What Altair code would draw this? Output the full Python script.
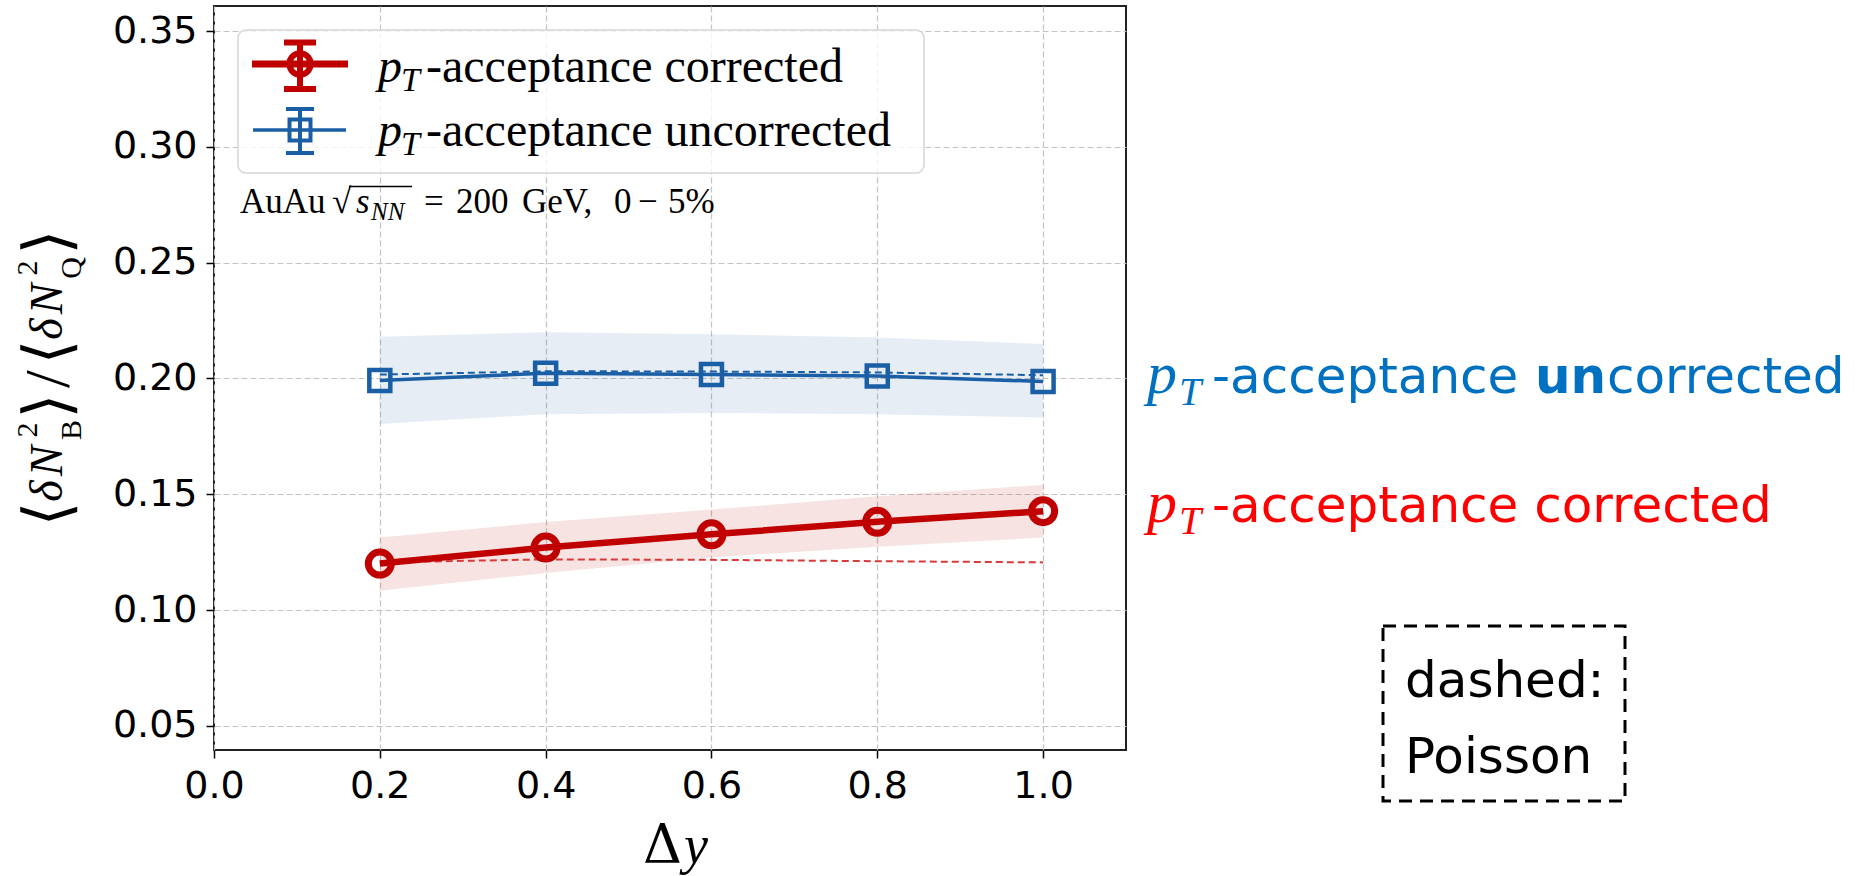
import altair as alt
import pandas as pd

# ---------------- data ----------------
dy = [0.2, 0.4, 0.6, 0.8, 1.0]
corr = [0.1201, 0.1270, 0.1327, 0.1381, 0.1427]
corr_lo = [0.1084, 0.1160, 0.1227, 0.1274, 0.1313]
corr_hi = [0.1313, 0.1380, 0.1434, 0.1491, 0.1541]
corr_pois = [0.1206, 0.1219, 0.1217, 0.1211, 0.1206]
unc = [0.1991, 0.2023, 0.2017, 0.2011, 0.1987]
unc_lo = [0.1803, 0.1846, 0.1851, 0.1846, 0.1831]
unc_hi = [0.2180, 0.2199, 0.2191, 0.2177, 0.2149]
unc_pois = [0.2017, 0.2031, 0.2030, 0.2026, 0.2014]

x_ticks = [0.0, 0.2, 0.4, 0.6, 0.8, 1.0]
y_ticks = [0.05, 0.10, 0.15, 0.20, 0.25, 0.30, 0.35]
x_domain = [0.0, 1.1]
y_domain = [0.0396, 0.3608]

legend_labels = ["-acceptance corrected", "-acceptance uncorrected"]
side_red = ["-acceptance corrected"]
side_blue = ["-acceptance ", "un", "corrected"]
box_lines = ["dashed:", "Poisson"]
ann_pieces = ["AuAu", "√", "s", "NN", "=", "200", "GeV,", "0", "−", "5%"]

RED = "#c00000"
BLUE = "#1a5fa5"
SIDE_RED = "#ff0000"
SIDE_BLUE = "#0070c0"

OX, OY = 214, 6
W, H = 912, 744


def X(px):
    return px - OX


def Y(py):
    return py - OY


def one():
    return pd.DataFrame({"k": [0]})


def text_mark(s, x, y, size, font="DejaVu Sans", color="black", style="normal",
              weight="normal", angle=0, align="left", baseline="alphabetic"):
    return alt.Chart(pd.DataFrame({"label": [s]})).mark_text(
        align=align, baseline=baseline, font=font, fontSize=size,
        fontStyle=style, fontWeight=weight, color=color, angle=angle
    ).encode(x=alt.value(X(x)), y=alt.value(Y(y)), text="label:N")


def rule(x1, y1, x2, y2, color, width, dash=None):
    kw = dict(color=color, strokeWidth=width)
    if dash:
        kw["strokeDash"] = dash
    return alt.Chart(one()).mark_rule(**kw).encode(
        x=alt.value(X(x1)), x2=alt.value(X(x2)),
        y=alt.value(Y(y1)), y2=alt.value(Y(y2)))


def sym(x, y, shape, size, stroke, sw):
    return alt.Chart(one()).mark_point(
        shape=shape, size=size, filled=False, color=stroke,
        strokeWidth=sw, opacity=1
    ).encode(x=alt.value(X(x)), y=alt.value(Y(y)))


df = pd.DataFrame({
    "dy": dy, "corr": corr, "corr_lo": corr_lo, "corr_hi": corr_hi,
    "corr_pois": corr_pois, "unc": unc, "unc_lo": unc_lo, "unc_hi": unc_hi,
    "unc_pois": unc_pois,
})

axis_common = dict(
    labelFont="DejaVu Sans", labelFontSize=38, labelColor="black",
    tickColor="black", tickSize=8, tickWidth=1.5, domain=False, labelFlush=False,
    grid=True, gridColor="#c4c4c4", gridDash=[6, 3], gridWidth=1.2,
    labelPadding=9, title=None,
)
xenc = alt.X("dy:Q", scale=alt.Scale(domain=x_domain, nice=False, zero=False),
             axis=alt.Axis(values=x_ticks, format=".1f", **axis_common), title=None)


def yenc(field):
    return alt.Y(f"{field}:Q", scale=alt.Scale(domain=y_domain, nice=False, zero=False),
                 axis=alt.Axis(values=y_ticks, format=".2f", **axis_common), title=None)


base = alt.Chart(df)
layers = [
    base.mark_area(color=BLUE, opacity=0.11).encode(x=xenc, y=yenc("unc_lo"), y2="unc_hi:Q"),
    base.mark_area(color=RED, opacity=0.11).encode(x=xenc, y=yenc("corr_lo"), y2="corr_hi:Q"),
    base.mark_line(color="#d83a3a", strokeWidth=2, strokeDash=[7, 4]).encode(x=xenc, y=yenc("corr_pois")),
    base.mark_line(color=RED, strokeWidth=6.5).encode(x=xenc, y=yenc("corr")),
    base.mark_line(color=BLUE, strokeWidth=3.5).encode(x=xenc, y=yenc("unc")),
    base.mark_line(color=BLUE, strokeWidth=2, strokeDash=[7, 4]).encode(x=xenc, y=yenc("unc_pois")),
    base.mark_point(shape="circle", size=531, filled=False, color=RED,
                    strokeWidth=7, opacity=1).encode(x=xenc, y=yenc("corr")),
    base.mark_point(shape="square", size=441, filled=False, color=BLUE,
                    strokeWidth=4.5, opacity=1).encode(x=xenc, y=yenc("unc")),
]

# ---------------- legend box ----------------
layers.append(alt.Chart(one()).mark_rect(
    fill="white", fillOpacity=0.8, stroke="#d5d5d5", strokeWidth=1.5, cornerRadius=8
).encode(x=alt.value(X(238)), x2=alt.value(X(924)), y=alt.value(Y(30)), y2=alt.value(Y(173))))
# red entry
layers += [
    rule(252, 64, 348, 64, RED, 7),
    rule(300, 40, 300, 91, RED, 6),
    rule(284, 42.5, 316, 42.5, RED, 6),
    rule(284, 89, 316, 89, RED, 6),
    sym(300, 64, "circle", 452, RED, 6),
]
# blue entry
layers += [
    rule(253, 130, 346, 130, BLUE, 3.5),
    rule(300, 107, 300, 155, BLUE, 4),
    rule(286, 109, 314, 109, BLUE, 4),
    rule(286, 153, 314, 153, BLUE, 4),
    sym(300, 130, "square", 441, BLUE, 4),
]
SERIF = "Liberation Serif"
for lab, yb in zip(legend_labels, [82, 146]):
    layers += [
        text_mark("p", 378, yb, 48, SERIF, style="italic"),
        text_mark("T", 401, yb + 9, 34, SERIF, style="italic"),
        text_mark(lab, 426, yb, 48, SERIF),
    ]

# ---------------- annotation ----------------
ann_x = [240, 332, 356, 371, 424, 456, 522, 614, 638, 668]
ann_style = ["normal", "normal", "italic", "italic", "normal", "normal", "normal", "normal", "normal", "normal"]
ann_size = [35, 35, 35, 25, 35, 35, 35, 35, 35, 35]
ann_dy = [0, 0, 0, 7, 0, 0, 0, 0, 0, 0]
for s, xx, st, sz, d in zip(ann_pieces, ann_x, ann_style, ann_size, ann_dy):
    layers.append(text_mark(s, xx, 213 + d, sz, SERIF, style=st))
layers.append(rule(349, 186.5, 412, 186.5, "black", 1.6))

# ---------------- x title ----------------
layers += [
    text_mark("Δ", 643, 863, 54, "DejaVu Serif"),
    text_mark("y", 684, 863, 54, SERIF, style="italic"),
]

# ---------------- y title (rotated pieces) ----------------
ytitle = [("⟨", 514, "br"), ("δ", 491, "main"), ("N", 461, "main"), ("2", 430, "sup"),
          ("B", 430, "sub"), ("⟩", 406, "br"), ("/", 379, "sl"), ("⟨", 352, "br"),
          ("δ", 329, "main"), ("N", 299, "main"), ("2", 268, "sup"), ("Q", 268, "sub"),
          ("⟩", 242, "br")]
ystyles = {
    "br": dict(x=50, size=64, font="DejaVu Serif", style="normal", baseline="middle"),
    "main": dict(x=62, size=46, font=SERIF, style="italic", baseline="alphabetic"),
    "sup": dict(x=37, size=30, font=SERIF, style="normal", baseline="alphabetic"),
    "sub": dict(x=81, size=30, font=SERIF, style="normal", baseline="alphabetic"),
    "sl": dict(x=50, size=64, font=SERIF, style="normal", baseline="middle"),
}
for s, yc, kind in ytitle:
    st = ystyles[kind]
    layers.append(text_mark(s, st["x"], yc, st["size"], st["font"], style=st["style"],
                            angle=270, align="center", baseline=st["baseline"]))

# ---------------- right-side labels ----------------
layers += [
    text_mark("p", 1147, 393, 60, SERIF, color=SIDE_BLUE, style="italic"),
    text_mark("T", 1179, 405, 40, SERIF, color=SIDE_BLUE, style="italic"),
    text_mark(side_blue[0], 1212, 393, 50, color=SIDE_BLUE),
    text_mark(side_blue[1], 1535, 393, 50, color=SIDE_BLUE, weight="bold"),
    text_mark(side_blue[2], 1607, 393, 50, color=SIDE_BLUE),
    text_mark("p", 1147, 522, 60, SERIF, color=SIDE_RED, style="italic"),
    text_mark("T", 1179, 534, 40, SERIF, color=SIDE_RED, style="italic"),
    text_mark(side_red[0], 1212, 522, 50, color=SIDE_RED),
]

# ---------------- dashed box ----------------
layers.append(alt.Chart(one()).mark_rect(
    filled=False, stroke="black", strokeWidth=3, strokeDash=[13, 8]
).encode(x=alt.value(X(1383)), x2=alt.value(X(1625)), y=alt.value(Y(626)), y2=alt.value(Y(801))))
layers += [
    text_mark(box_lines[0], 1405, 697, 50),
    text_mark(box_lines[1], 1405, 773, 50),
]

chart = alt.layer(*layers).properties(
    width=W, height=H,
    autosize=alt.AutoSizeParams(type="none"),
    padding={"left": OX, "top": OY, "right": 1875 - OX - W, "bottom": 876 - OY - H},
).configure(background="white").configure_view(stroke="#222222", strokeWidth=2)

chart.save("out.html", embed_options={"renderer": "svg", "actions": False})
